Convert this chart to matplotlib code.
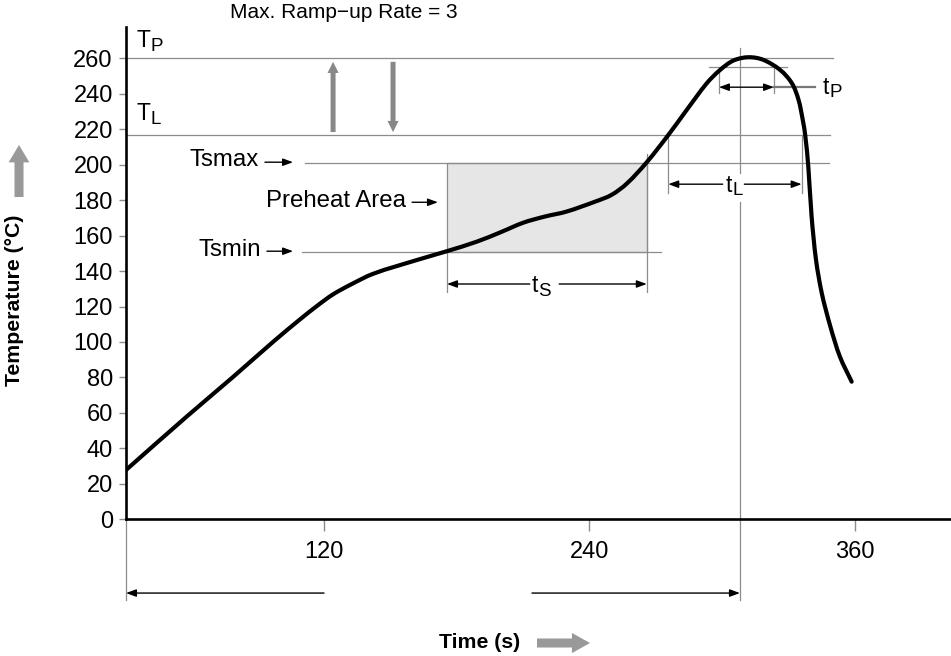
import matplotlib
matplotlib.use('Agg')
import matplotlib.pyplot as plt
from matplotlib.patches import Rectangle, PathPatch
from matplotlib.path import Path

plt.rcParams['font.family'] = ['Liberation Sans', 'DejaVu Sans']

# ---------------- data ----------------
time_s = [30.5, 57.9, 79.0, 97.1, 109.2, 117.0, 124.0, 131.8, 142.3, 161.9,
          175.5, 189.1, 200.0, 210.1, 220.0, 229.5, 242.4, 250.0, 257.0, 265.9,
          275.6, 283.9, 293.0, 299.0, 305.0, 311.9, 318.6, 326.2, 331.5,
          334.5, 336.4, 337.5, 338.9, 340.4, 342.4, 345.0, 348.9, 353.2, 358.5]
temp_c = [27.8, 57.9, 80.4, 100.2, 112.8, 120.5, 126.8, 132.2, 138.5, 146.2,
          151.2, 156.6, 162.0, 167.3, 170.8, 173.5, 179.1, 183.0, 189.5, 201.4,
          216.7, 230.8, 245.9, 253.4, 258.7, 260.6, 259.1, 253.4, 245.9,
          236.5, 225.2, 216.7, 198.9, 170.7, 146.2, 127.5, 108.6, 91.7, 77.6]

y_ticks = list(range(0, 261, 20))
x_ticks = [120, 240, 360]
x_tick_labels = ['120', '240', '360']

T_P = 260
T_L = 217
TS_MAX = 201
TS_MIN = 151
ts_start, ts_end = 175.6, 265.9
tL_start, tL_end = 275.6, 335.9
t_peak = 308.0
tP_start, tP_end = 298.5, 323.4
tP_level = 254.9

GRAY = '#8c8c8c'
ARROW_GRAY = '#999999'

W, H = 951, 656
fig = plt.figure(figsize=(W / 100, H / 100), dpi=100)
ax = fig.add_axes([126 / W, (H - 519.3) / H, (W - 126) / W, (519.3 - 27) / H])
ax.set_xlim(30.5, 403.4)
ax.set_ylim(0, 277.65)

for s in ['top', 'right']:
    ax.spines[s].set_visible(False)
for s in ['left', 'bottom']:
    ax.spines[s].set_linewidth(1.9)
    ax.spines[s].set_color('black')
    ax.spines[s].set_zorder(6)

ax.set_yticks(y_ticks)
ax.set_xticks(x_ticks)
ax.set_xticklabels(x_tick_labels)
ax.tick_params(axis='y', length=5, width=1, color=GRAY, labelsize=17, pad=4.5)
ax.tick_params(axis='x', length=8.6, width=1, color=GRAY, labelsize=17, pad=7)

LW = 0.9
# horizontal reference lines
ax.plot([30.5, 350.1], [T_P, T_P], color=GRAY, lw=LW)
ax.plot([30.5, 348.7], [T_L, T_L], color=GRAY, lw=LW)
ax.plot([111.4, 348.2], [TS_MAX, TS_MAX], color=GRAY, lw=LW)
ax.plot([110.0, 272.3], [TS_MIN, TS_MIN], color=GRAY, lw=LW)

# preheat area
ax.add_patch(Rectangle((ts_start, TS_MIN), ts_end - ts_start, TS_MAX - TS_MIN,
                       facecolor='#e6e6e6', edgecolor=GRAY, lw=LW, zorder=1))
ax.plot([ts_start, ts_start], [TS_MIN, 128.2], color=GRAY, lw=LW)
ax.plot([ts_end, ts_end], [206.0, 128.2], color=GRAY, lw=LW)

# tL verticals
ax.plot([tL_start, tL_start], [T_L, 184.0], color=GRAY, lw=LW)
ax.plot([tL_end, tL_end], [T_L, 184.0], color=GRAY, lw=LW)

# peak vertical (broken around tL label)
ax.plot([t_peak, t_peak], [265.8, 195.3], color=GRAY, lw=LW, clip_on=False)
ax.plot([t_peak, t_peak], [179.0, -45.5], color=GRAY, lw=LW, clip_on=False)
# left edge vertical below axis
ax.plot([30.5, 30.5], [0, -45.5], color=GRAY, lw=LW, clip_on=False)

# tP construction
ax.plot([294.0, 329.3], [tP_level, tP_level], color=GRAY, lw=LW)
ax.plot([tP_start, tP_start], [tP_level, 240.4], color=GRAY, lw=LW)
ax.plot([tP_end, tP_end], [tP_level, 240.4], color=GRAY, lw=LW)
ax.plot([tP_end, 341.9], [243.7, 243.7], color='#777777', lw=1.6)

# profile curve: smooth cubic Bezier through the read points
# (chord-length Catmull-Rom, chord measured in screen-like units)
SX, SY = 2.2125, 1.773
pts = list(zip(time_s, temp_c))
n = len(pts)


def dist(a, b):
    return (((b[0] - a[0]) * SX) ** 2 + ((b[1] - a[1]) * SY) ** 2) ** 0.5


d = [dist(pts[i], pts[i + 1]) for i in range(n - 1)]
tang = []
for i in range(n):
    if i == 0:
        tang.append(((pts[1][0] - pts[0][0]) / d[0], (pts[1][1] - pts[0][1]) / d[0]))
    elif i == n - 1:
        tang.append(((pts[-1][0] - pts[-2][0]) / d[-1], (pts[-1][1] - pts[-2][1]) / d[-1]))
    else:
        s = d[i - 1] + d[i]
        tang.append(((pts[i + 1][0] - pts[i - 1][0]) / s, (pts[i + 1][1] - pts[i - 1][1]) / s))
verts = [pts[0]]
codes = [Path.MOVETO]
for i in range(n - 1):
    p1, p2 = pts[i], pts[i + 1]
    k = d[i] / 3.0
    c1 = (p1[0] + tang[i][0] * k, p1[1] + tang[i][1] * k)
    c2 = (p2[0] - tang[i + 1][0] * k, p2[1] - tang[i + 1][1] * k)
    verts += [c1, c2, p2]
    codes += [Path.CURVE4] * 3
ax.add_patch(PathPatch(Path(verts, codes), facecolor='none', edgecolor='black',
                       lw=3.0, zorder=4, capstyle='round', joinstyle='round'))

ASTYLE = '-|>,head_length=0.6,head_width=0.22'
DSTYLE = '<|-|>,head_length=0.6,head_width=0.22'


def arrow(x0, y0, x1, y1, style=ASTYLE):
    ax.annotate('', xy=(x1, y1), xytext=(x0, y0),
                arrowprops=dict(arrowstyle=style, color='black', lw=1.0,
                                shrinkA=0, shrinkB=0, mutation_scale=10),
                annotation_clip=False, zorder=5)


# ts arrow (split around label)
arrow(213.0, 132.7, ts_start, 132.7)
arrow(226.3, 132.7, ts_end, 132.7)
# tL arrow
arrow(300.2, 189.0, tL_start, 189.0)
arrow(310.0, 189.0, tL_end, 189.0)
# tP arrow
arrow(tP_start, 243.7, tP_end, 243.7, DSTYLE)
# bottom arrows
arrow(120.0, -41.6, 30.5, -41.6)
arrow(214.0, -41.6, t_peak, -41.6)
# label arrows
arrow(93.3, 201.4, 106.0, 201.4)
arrow(159.8, 178.8, 171.5, 178.8)
arrow(94.2, 151.2, 106.0, 151.2)


def sub_label(x, y, main, sub, size=16.5, subsize=13.5, ha='left'):
    t = ax.text(x, y, main, fontsize=size, ha=ha, va='center', zorder=5,
                clip_on=False)
    ax.annotate(sub, xy=(1, 0), xycoords=t, xytext=(0.3, -2),
                textcoords='offset points', fontsize=subsize, ha='left',
                va='bottom', zorder=5, annotation_clip=False)


sub_label(35.3, 270.0, 'T', 'P')
sub_label(35.3, 229.0, 'T', 'L')
sub_label(213.9, 132.0, 't', 'S')
sub_label(301.4, 188.5, 't', 'L')
sub_label(345.5, 243.7, 't', 'P')

TXT = 17.3
ax.text(90.6, 202.4, 'Tsmax', fontsize=TXT, ha='right', va='center')
ax.text(157.0, 179.5, 'Preheat Area', fontsize=TXT, ha='right', va='center')
ax.text(91.5, 152.0, 'Tsmin', fontsize=TXT, ha='right', va='center')
ax.text(128.8, 286.0, 'Max. Ramp\u2212up Rate = 3', fontsize=15, ha='center',
        va='center', clip_on=False)

# gray block arrows near top
for x0, y0, x1, y1 in [(124.1, 218.4, 124.1, 258.0), (151.2, 258.0, 151.2, 218.4)]:
    ax.annotate('', xy=(x1, y1), xytext=(x0, y0),
                arrowprops=dict(arrowstyle='simple,head_length=1.0,head_width=1.0,tail_width=0.45',
                                color='#888888', lw=0, shrinkA=0, shrinkB=0,
                                mutation_scale=8))

# axis labels (figure level)
fig.text(15 / W, 1 - 300 / H, 'Temperature (\u00b0C)', rotation=90, fontsize=15.3,
         fontweight='bold', ha='center', va='center')
fig.text(480 / W, 1 - 642 / H, 'Time (s)', fontsize=15.3, fontweight='bold',
         ha='center', va='center')

ax.annotate('', xy=(19 / W, 1 - 145 / H), xytext=(19 / W, 1 - 197 / H),
            xycoords='figure fraction', textcoords='figure fraction',
            arrowprops=dict(arrowstyle='simple,head_length=1.25,head_width=1.5,tail_width=0.65',
                            color=ARROW_GRAY, lw=0, shrinkA=0, shrinkB=0,
                            mutation_scale=10), annotation_clip=False)
ax.annotate('', xy=(590 / W, 1 - 643 / H), xytext=(537 / W, 1 - 643 / H),
            xycoords='figure fraction', textcoords='figure fraction',
            arrowprops=dict(arrowstyle='simple,head_length=1.3,head_width=1.45,tail_width=0.65',
                            color=ARROW_GRAY, lw=0, shrinkA=0, shrinkB=0,
                            mutation_scale=10), annotation_clip=False)

fig.savefig('out.png', dpi=100)
